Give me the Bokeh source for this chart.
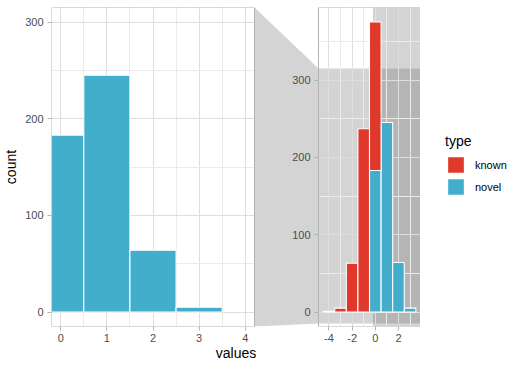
from bokeh.plotting import figure
from bokeh.layouts import row
from bokeh.models import (Range1d, LinearAxis, FixedTicker, Grid, Legend,
                          LegendItem)
from bokeh.embed import file_html
from bokeh.resources import INLINE

# ---------------- data ----------------
novel_values = [0, 1, 2, 3]
novel_counts = [183, 245, 64, 5]
known_values = [-4, -3, -2, -1, 0]
known_counts = [1, 5, 63, 237, 192]
bin_width = 1.0

# axis limits (already expanded as ggplot does)
zoom_x = (-0.2, 4.2)
zoom_y = (-15.0, 315.0)
full_x = (-4.9, 3.9)
full_y = (-18.75, 393.75)

# ticks
zoom_xticks = [0, 1, 2, 3, 4]
zoom_xminor = [0.5, 1.5, 2.5, 3.5]
y_ticks = [0, 100, 200, 300]
zoom_yminor = [50, 150, 250]
full_xticks = [-4, -2, 0, 2]
full_xminor = [-3, -1, 1, 3]
full_yminor = [50, 150, 250, 350]

type_labels = ["known", "novel"]
type_colors = ["#E0392B", "#43AECC"]

# ---------------- layout (pixels) ----------------
W, H = 420, 369
ML, MR, MT, MB = 51, 0, 7, 43
FW = W - ML - MR          # frame width
LP_W = 203                # left panel width
GAP = 64                  # gap between panels
RP_W = FW - LP_W - GAP    # right panel width

lux = (zoom_x[1] - zoom_x[0]) / LP_W
main_x = Range1d(zoom_x[0], zoom_x[0] + FW * lux)
rux = (full_x[1] - full_x[0]) / RP_W
r_x = Range1d(full_x[1] - FW * rux, full_x[1])
lp_right_r = r_x.start + LP_W * rux

def r_to_main(v):
    return round(main_x.start + (v - r_x.start) / rux * lux, 6)

FONT = "Liberation Sans"

p = figure(width=W, height=H, x_range=main_x, y_range=Range1d(*zoom_y),
           x_axis_type=None, y_axis_type=None, toolbar_location=None,
           output_backend="svg", min_border_left=ML, min_border_right=MR,
           min_border_top=MT, min_border_bottom=MB, outline_line_color=None,
           background_fill_color="white", border_fill_color="white")
p.extra_x_ranges = {"r": r_x}
p.extra_y_ranges = {"r": Range1d(*full_y)}

R = dict(x_range_name="r", y_range_name="r")

# zoom indicator areas
zfill = dict(fill_color="#656565", fill_alpha=0.28, line_color=None, level="image")
p.quad(left=zoom_x[0], right=min(zoom_x[1], full_x[1]), bottom=full_y[0], top=full_y[1], **zfill, **R)
p.quad(left=full_x[0], right=full_x[1], bottom=zoom_y[0], top=zoom_y[1], **zfill, **R)
p.patch(x=[lp_right_r, lp_right_r, full_x[0], full_x[0]],
        y=[full_y[0], full_y[1], zoom_y[1], zoom_y[0]], **zfill, **R)

# grids
def add_grid(dim, ticks, minor, cross, **rn):
    g = Grid(dimension=dim, ticker=FixedTicker(ticks=ticks, minor_ticks=minor),
             cross_bounds=cross, grid_line_color="#dedede", grid_line_width=1,
             minor_grid_line_color="#ebebeb", minor_grid_line_width=1, **rn)
    p.add_layout(g)

add_grid(0, zoom_xticks, zoom_xminor, zoom_y)
add_grid(1, y_ticks, zoom_yminor, zoom_x)
add_grid(0, full_xticks, full_xminor, full_y, **R)
add_grid(1, y_ticks, full_yminor, full_x, **R)

bar_style = dict(width=bin_width, line_color="white", line_width=1.1)

# left (zoomed) panel
p.vbar(x=novel_values, top=novel_counts, bottom=0, fill_color=type_colors[1], **bar_style)

# right (full) panel, stacked
novel_lookup = dict(zip(novel_values, novel_counts))
known_bottom = [novel_lookup.get(v, 0) for v in known_values]
known_top = [b + c for b, c in zip(known_bottom, known_counts)]
p.vbar(x=novel_values, top=novel_counts, bottom=0, fill_color=type_colors[1], **bar_style, **R)
p.vbar(x=known_values, top=known_top, bottom=known_bottom, fill_color=type_colors[0], **bar_style, **R)

# panel borders
border = dict(fill_color=None, line_color="#b3b3b3", line_width=1)
p.quad(left=zoom_x[0], right=zoom_x[1], bottom=zoom_y[0], top=zoom_y[1], **border)
p.quad(left=full_x[0], right=full_x[1], bottom=full_y[0], top=full_y[1], **border, **R)

# axes
def style_axis(ax, label_standoff=4, title_standoff=3):
    ax.axis_line_color = None
    ax.major_tick_line_color = "#b3b3b3"
    ax.major_tick_in = 0
    ax.major_tick_out = 4
    ax.minor_tick_line_color = None
    ax.major_label_text_color = "#4d4d4d"
    ax.major_label_text_font = FONT
    ax.major_label_text_font_size = "11px"
    ax.major_label_standoff = label_standoff
    ax.axis_label_text_font = FONT
    ax.axis_label_text_font_size = "14px"
    ax.axis_label_text_font_style = "normal"
    ax.axis_label_text_color = "black"
    ax.axis_label_standoff = title_standoff

ax_l = LinearAxis(ticker=FixedTicker(ticks=y_ticks), axis_label="count")
style_axis(ax_l, 4, 3)
p.add_layout(ax_l, "left")

# one bottom axis carrying the ticks of both panels
full_pos = [r_to_main(t) for t in full_xticks]
ax_b = LinearAxis(ticker=FixedTicker(ticks=zoom_xticks + full_pos), axis_label="values")
ax_b.major_label_overrides = {pos: str(t) for pos, t in zip(full_pos, full_xticks)}
style_axis(ax_b, 3, 0)
p.add_layout(ax_b, "below")

ax_rl = LinearAxis(ticker=FixedTicker(ticks=y_ticks), fixed_location=full_x[0], **R)
style_axis(ax_rl, 4, 3)
p.add_layout(ax_rl, "left")

# ---------------- legend panel ----------------
lf = figure(width=101, height=H, x_range=Range1d(0, 1), y_range=Range1d(0, 1),
            x_axis_type=None, y_axis_type=None, toolbar_location=None,
            output_backend="svg", min_border=0, outline_line_color=None,
            background_fill_color="white", border_fill_color="white")
# hidden copies of the series: they only provide the legend keys
k_known = lf.vbar(x=known_values, top=known_counts, width=bin_width,
                  fill_color=type_colors[0], line_color="white", line_width=1.1, visible=False)
k_novel = lf.vbar(x=novel_values, top=novel_counts, width=bin_width,
                  fill_color=type_colors[1], line_color="white", line_width=1.1, visible=False)

legend = Legend(items=[LegendItem(label=type_labels[0], renderers=[k_known]),
                       LegendItem(label=type_labels[1], renderers=[k_novel])],
                location=(25, 129), title="type",
                title_text_font=FONT, title_text_font_size="14px",
                title_text_font_style="normal", title_text_color="black",
                title_standoff=5, label_text_font=FONT, label_text_font_size="11px",
                label_text_color="black", glyph_width=21, glyph_height=21,
                spacing=1, label_standoff=9, padding=5, margin=0,
                border_line_color=None, background_fill_alpha=0,
                inactive_fill_alpha=0, click_policy="none")
lf.add_layout(legend)

layout = row(p, lf)
open("out.html", "w").write(file_html(layout, INLINE))
